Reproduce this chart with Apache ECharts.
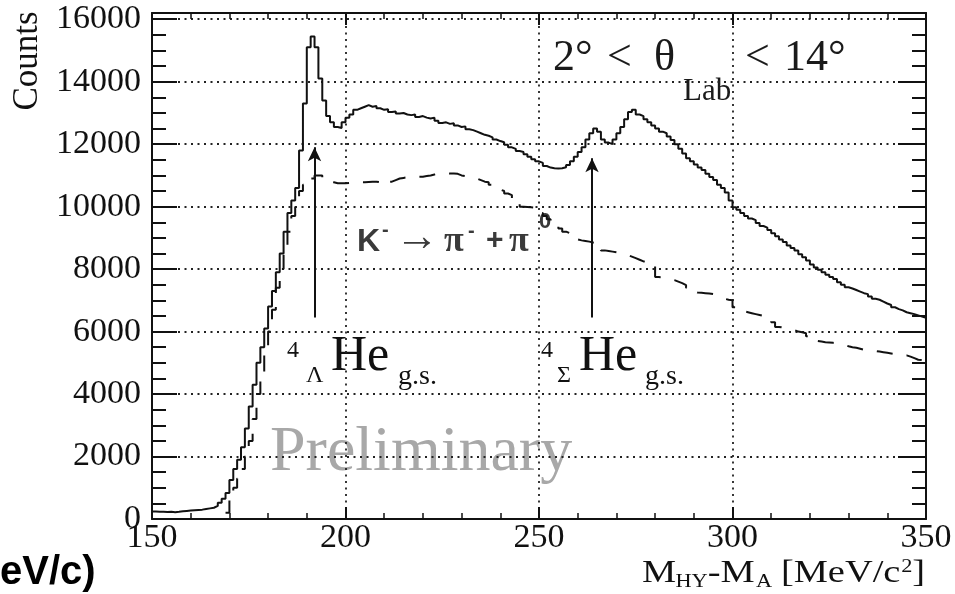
<!DOCTYPE html>
<html>
<head>
<meta charset="utf-8">
<title>Missing mass spectrum</title>
<script src="https://cdn.jsdelivr.net/npm/echarts@6/dist/echarts.min.js"></script>
<style>
  html, body { margin: 0; padding: 0; background: #fff; }
  #chart { width: 955px; height: 594px; }
</style>
</head>
<body>
<div id="chart"></div>
<script>
// Histogram binning: 1 MeV/c^2 bins starting at 150
const binStart = 150;
const binWidth = 1;

// All events, bins 150..349
const allCounts = [
  240, 230, 235, 225, 230, 220, 230, 250, 260, 270,
  280, 290, 300, 320, 340, 360, 420, 520, 650, 830,
  1250, 1600, 1900, 2300, 2900, 3600, 4300, 5000, 5500, 6100,
  6800, 7300, 7900, 8500, 9200, 9800, 10200, 10600, 11800, 13300,
  15100, 15450, 15100, 14100, 13400, 12900, 12700, 12550, 12520, 12700,
  12850, 12950, 13100, 13150, 13200, 13250, 13200, 13220, 13150, 13100,
  13120, 13030, 13050, 12980, 13000, 12950, 12930, 12950, 12870, 12900,
  12850, 12820, 12850, 12750, 12680, 12700, 12650, 12670, 12600, 12550,
  12570, 12480, 12450, 12400, 12350, 12300, 12270, 12220, 12150, 12100,
  12060, 11980, 11900, 11850, 11780, 11750, 11680, 11600, 11520, 11450,
  11400, 11300, 11250, 11230, 11220, 11230, 11260, 11330, 11450, 11600,
  11750, 11900, 12150, 12350, 12500, 12400, 12150, 12050, 12000, 12150,
  12350, 12550, 12800, 13030, 13100, 12950, 12900, 12800, 12700, 12600,
  12500, 12400, 12350, 12250, 12130, 12000, 11850, 11700, 11550, 11450,
  11350, 11250, 11170, 11050, 10950, 10850, 10700, 10600, 10450, 10200,
  9980, 9900, 9800, 9700, 9620, 9570, 9480, 9380, 9330, 9250,
  9150, 9050, 8950, 8870, 8760, 8680, 8600, 8480, 8380, 8280,
  8150, 8050, 7980, 7900, 7820, 7750, 7680, 7580, 7500, 7420,
  7380, 7330, 7280, 7230, 7200, 7120, 7050, 7020, 6960, 6900,
  6850, 6780, 6720, 6680, 6620, 6590, 6560, 6520, 6480, 6440
];

// K- -> pi- + pi0 contribution, bins 169..349
const decayStart = 169;
const decayCounts = [
  200,
  700, 1000, 1300, 1600, 2000, 2500, 3200, 4000, 4700, 5300,
  6000, 6700, 7400, 8000, 8600, 9200, 9700, 10200, 10500, 10700,
  10800, 10900, 11000, 11000, 10850, 10800, 10780, 10750, 10750, 10750,
  10760, 10750, 10760, 10780, 10780, 10790, 10800, 10800, 10780, 10740,
  10720, 10800, 10850, 10900, 10920, 10940, 10950, 10950, 10960, 10960,
  10980, 11000, 11030, 11050, 11070, 11070, 11060, 11060, 11050, 11000,
  10980, 10950, 10920, 10900, 10850, 10800, 10780, 10700, 10650, 10550,
  10500, 10420, 10370, 10250, 10150, 10000, 9990, 9980, 9970, 9960,
  9800, 9700, 9600, 9500, 9400, 9300, 9200, 9150, 9100, 8950,
  8920, 8900, 8880, 8850, 8830, 8700, 8600, 8580, 8560, 8540,
  8520, 8500, 8450, 8400, 8350, 8300, 8250, 8200, 8190, 8100,
  7750, 7720, 7700, 7680, 7650, 7600, 7550, 7490, 7400, 7300,
  7250, 7240, 7230, 7220, 7200, 7150, 7100, 7050, 7020, 7000,
  6780, 6700, 6650, 6620, 6590, 6560, 6530, 6500, 6470, 6400,
  6300, 6150, 6130, 6100, 6080, 6050, 6000, 5980, 5950, 5850,
  5730, 5700, 5680, 5660, 5650, 5640, 5630, 5600, 5570, 5530,
  5500, 5480, 5450, 5420, 5400, 5390, 5380, 5360, 5340, 5320,
  5300, 5280, 5260, 5250, 5240, 5200, 5150, 5100, 5090, 5080
];

// Axis ranges and ticks
const xRange = [150, 350];
const xStep = 50;
const yRange = [0, 16200];
const yStep = 2000;

// Peak markers: arrow positions (MeV/c^2) and arrow extents (counts)
const arrowX = [192, 263.7];
const arrowTop = [11900, 11550];
const arrowBase = 6450;

// Turn bin contents into a step outline: left edge of each bin, plus closing right edge
function toOutline(start, counts) {
  const pts = counts.map((v, i) => [start + i * binWidth, v]);
  pts.push([start + counts.length * binWidth, counts[counts.length - 1]]);
  return pts;
}

const serif = '"Liberation Serif", "Times New Roman", serif';
const sans = '"Liberation Sans", Arial, sans-serif';
const ink = '#111';
const gridDots = { color: '#222', width: 1.8, type: [2, 4.5] };

function frameAxis(extra) {
  return Object.assign({
    type: 'value',
    axisLine: { show: true, onZero: false, lineStyle: { color: ink, width: 2 } },
    axisLabel: { show: false },
    splitLine: { show: false }
  }, extra);
}

// Plain text label helper (left aligned, vertically centred on y)
function label(x, y, text, font, fill, extra) {
  return Object.assign({
    type: 'text', x: x, y: y,
    style: { x: 0, y: 0, text: text, font: font, fill: fill || ink, verticalAlign: 'middle' }
  }, extra || {});
}

const chart = echarts.init(document.getElementById('chart'), null, { renderer: 'canvas' });

const option = {
  animation: false,
  backgroundColor: '#fff',
  grid: { left: 152, right: 29, top: 13, bottom: 75 },
  xAxis: [
    frameAxis({
      min: xRange[0], max: xRange[1], interval: xStep, position: 'bottom',
      axisTick: { inside: true, length: 12, lineStyle: { color: ink, width: 2 } },
      minorTick: { show: true, splitNumber: 5, length: 6, lineStyle: { color: ink, width: 1.5 } },
      axisLabel: { show: true, margin: 2, color: ink, fontFamily: serif, fontSize: 34,
                   formatter: v => String(v) },
      splitLine: { show: true, lineStyle: gridDots }
    }),
    frameAxis({
      min: xRange[0], max: xRange[1], interval: xStep, position: 'top',
      axisTick: { inside: true, length: 12, lineStyle: { color: ink, width: 2 } },
      minorTick: { show: true, splitNumber: 5, length: 6, lineStyle: { color: ink, width: 1.5 } }
    })
  ],
  yAxis: [
    frameAxis({
      min: yRange[0], max: yRange[1], interval: yStep, position: 'left',
      axisTick: { inside: true, length: 25, lineStyle: { color: ink, width: 2 } },
      minorTick: { show: true, splitNumber: 4, length: 14, lineStyle: { color: ink, width: 2 } },
      axisLabel: { show: true, margin: 11, color: ink, fontFamily: serif, fontSize: 34,
                   showMaxLabel: false, formatter: v => String(v) },
      splitLine: { show: true, lineStyle: gridDots }
    }),
    frameAxis({
      min: yRange[0], max: yRange[1], interval: yStep, position: 'right',
      axisTick: { inside: true, length: 28, lineStyle: { color: ink, width: 2 } },
      minorTick: { show: true, splitNumber: 4, length: 14, lineStyle: { color: ink, width: 2 } }
    })
  ],
  series: [
    {
      name: 'All events',
      type: 'line',
      step: 'end',
      symbol: 'none',
      data: toOutline(binStart, allCounts),
      lineStyle: { color: ink, width: 2 },
      z: 4,
      markLine: {
        silent: true,
        symbol: ['none', 'arrow'],
        symbolSize: [10, 14],
        label: { show: false },
        lineStyle: { color: ink, width: 2, type: 'solid' },
        data: arrowX.map((x, i) => [
          { coord: [x, arrowBase] },
          { coord: [x, arrowTop[i]] }
        ])
      }
    },
    {
      name: 'K- → π- + π0',
      type: 'line',
      step: 'end',
      symbol: 'none',
      data: toOutline(decayStart, decayCounts),
      lineStyle: { color: ink, width: 2, type: [16, 14] },
      z: 3
    }
  ],
  graphic: [
    // y-axis title
    { type: 'text', rotation: Math.PI / 2, x: 28, y: 61,
      style: { text: 'Counts', font: '35px ' + serif, fill: ink, align: 'center', verticalAlign: 'middle' } },
    // x-axis title, laid out with wide TLatex-like spacing
    {
      type: 'group', x: 642, y: 574, scaleX: 1.24,
      children: [
        label(0, 0, 'M', '31px ' + serif),
        label(27, 8, 'HY', '18px ' + serif),
        label(53, 0, '-M', '31px ' + serif),
        label(92, 8, 'A', '18px ' + serif),
        label(112, 0, '[MeV/c', '31px ' + serif),
        label(209, -7, '2', '18px ' + serif),
        label(218, 0, ']', '31px ' + serif)
      ]
    },
    // angular range
    label(553, 58, '2°', '44px ' + serif, '#1a1a1a'),
    label(607, 58, '<', '44px ' + serif, '#1a1a1a'),
    label(654, 58, 'θ', '44px ' + serif, '#1a1a1a'),
    label(683, 92, 'Lab', '31px ' + serif, '#1a1a1a'),
    label(745, 58, '<', '44px ' + serif, '#1a1a1a'),
    label(784, 58, '14°', '44px ' + serif, '#1a1a1a'),
    // hypernuclear state labels
    label(287, 351, '4', '24px ' + serif),
    label(306, 376, 'Λ', '24px ' + serif),
    label(331, 357, 'He', '50px ' + serif),
    label(398, 377, 'g.s.', '28px ' + serif),
    label(541, 351, '4', '24px ' + serif),
    label(557, 376, 'Σ', '24px ' + serif),
    label(579, 357, 'He', '50px ' + serif),
    label(645, 377, 'g.s.', '28px ' + serif),
    // watermark
    label(270, 453, 'Preliminary', '64px ' + serif, '#a8a8a8'),
    // decay channel label
    label(357, 242, 'K', 'bold 32px ' + sans, '#3a3a3a'),
    label(382, 230, '-', 'bold 20px ' + sans, '#3a3a3a'),
    label(395, 238, '→', '44px ' + sans, '#3a3a3a'),
    label(444, 242, 'π', 'bold 36px ' + serif, '#3a3a3a'),
    label(468, 231, '-', 'bold 20px ' + sans, '#3a3a3a'),
    label(486, 241, '+', 'bold 30px ' + sans, '#3a3a3a'),
    label(509, 242, 'π', 'bold 36px ' + serif, '#3a3a3a'),
    label(539, 222, '0', 'bold 22px ' + sans, '#3a3a3a'),
    // unit fragment at the lower left
    label(0, 573, 'eV/c)', 'bold 40px ' + sans, '#000')
  ]
};

chart.setOption(option);
</script>
</body>
</html>
